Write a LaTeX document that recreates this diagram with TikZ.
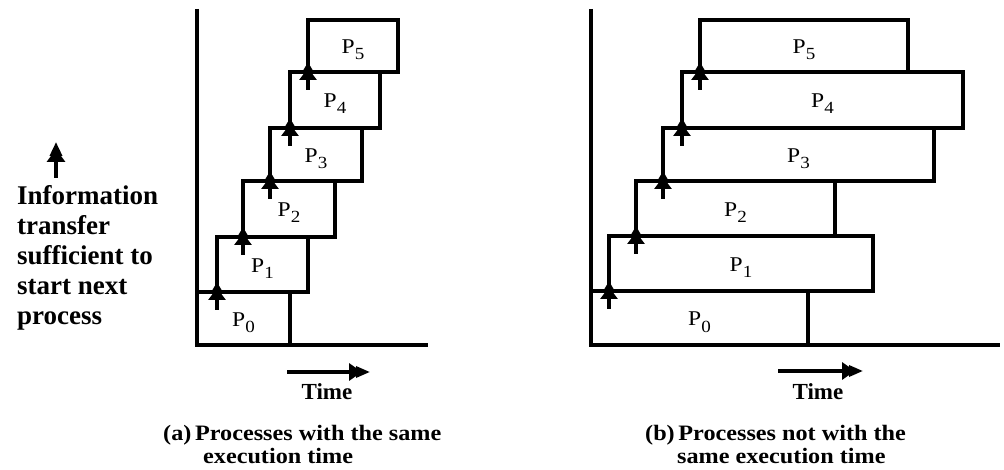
\documentclass[tikz,border=0pt]{standalone}
\usepackage{fontspec}
\setmainfont{Liberation Serif}
\newfontfamily\pfont[FakeStretch=1.12]{Liberation Serif}
\newfontfamily\capfont[FakeStretch=1.1]{Liberation Serif}
\usetikzlibrary{arrows.meta,fit,calc}
\newcommand{\Pn}[1]{P\raisebox{-6pt}{\fontsize{17}{17}\selectfont #1}}
\begin{document}
\begin{tikzpicture}[x=1pt,y=-1pt,
  pbox/.style={draw, line width=3.2pt, rectangle, inner sep=0pt, outer sep=0pt},
  plabel/.style={font=\pfont\fontsize{21}{21}\selectfont, inner sep=0pt, anchor=base},
  axisline/.style={line width=3.8pt},
  treetip/.style={-{Triangle[length=12pt,width=17pt,sep=-6pt] Triangle[length=12pt,width=13pt]}},
  upflow/.style={line width=3.2pt, treetip},
  legarrow/.style={line width=3.4pt, -{Triangle[length=13pt,width=18pt,sep=-7pt] Triangle[length=14pt,width=12pt]}},
  timearrow/.style={line width=3.2pt, -{Triangle[length=13pt,width=17pt,sep=-6pt] Triangle[length=14pt,width=11pt]}},
  legtext/.style={font=\bfseries\fontsize{27}{27}\selectfont, inner sep=0pt, anchor=base west},
  captext/.style={font=\capfont\bfseries\fontsize{22}{22}\selectfont, inner sep=0pt, anchor=base west},
  timetext/.style={font=\bfseries\fontsize{23}{23}\selectfont, inner sep=0pt, anchor=base}
]
\useasboundingbox (0,0) rectangle (1004,470);

% ---------- panel (a) ----------
\coordinate (aTop) at (197,9);
\coordinate (aOrig) at (197,345);
\coordinate (aEnd) at (428,345);
\draw[axisline] (aTop) -- (aOrig) -- (aEnd);

\node[pbox, fit={(197,292) (290,345)}] (a0) {};
\node[pbox, fit={(217,237) (308,292)}] (a1) {};
\node[pbox, fit={(243,181) (335,237)}] (a2) {};
\node[pbox, fit={(270,128) (362,181)}] (a3) {};
\node[pbox, fit={(290,72) (380,128)}] (a4) {};
\node[pbox, fit={(308,20) (398,72)}] (a5) {};
\foreach \i in {0,...,5}{
  \node[plabel] (a\i l) at ($(a\i.center)+(0,8)$) {\Pn{\i}};
}
\foreach \i/\j in {0/1,1/2,2/3,3/4,4/5}{
  \draw[upflow] ($(a\j.west |- a\i.north)+(0,18)$) -- ($(a\j.west |- a\i.north)+(0,-10)$);
}

\coordinate (taS) at (287,372);
\coordinate (taE) at (370,372);
\draw[timearrow] (taS) -- (taE);
\node[timetext] (timeA) at (327,399) {Time};
\node[captext] (capA1) at (163,440) {(a)\,Processes with the same};
\node[captext] (capA2) at (203,463) {execution time};

% ---------- panel (b) ----------
\coordinate (bTop) at (591,9);
\coordinate (bOrig) at (591,345);
\coordinate (bEnd) at (1000,345);
\draw[axisline] (bTop) -- (bOrig) -- (bEnd);

\node[pbox, fit={(591,291) (808,345)}] (b0) {};
\node[pbox, fit={(609,236) (873,291)}] (b1) {};
\node[pbox, fit={(636,181) (835,236)}] (b2) {};
\node[pbox, fit={(663,128) (934,181)}] (b3) {};
\node[pbox, fit={(682,72) (963,128)}] (b4) {};
\node[pbox, fit={(700,20) (908,72)}] (b5) {};
\foreach \i in {0,...,5}{
  \node[plabel] (b\i l) at ($(b\i.center)+(0,8)$) {\Pn{\i}};
}
\foreach \i/\j in {0/1,1/2,2/3,3/4,4/5}{
  \draw[upflow] ($(b\j.west |- b\i.north)+(0,18)$) -- ($(b\j.west |- b\i.north)+(0,-10)$);
}

\coordinate (tbS) at (778,371);
\coordinate (tbE) at (863,371);
\draw[timearrow] (tbS) -- (tbE);
\node[timetext] (timeB) at (818,399) {Time};
\node[captext] (capB1) at (645,440) {(b)\,Processes not with the};
\node[captext] (capB2) at (677,463) {same execution time};

% ---------- legend ----------
\coordinate (legTail) at (56,178);
\coordinate (legTip) at (56,142);
\draw[legarrow] (legTail) -- (legTip);
\node[legtext] (leg1) at (17,205) {Information};
\node[legtext] (leg2) at (17,235) {transfer};
\node[legtext] (leg3) at (17,265) {sufficient to};
\node[legtext] (leg4) at (17,295) {start next};
\node[legtext] (leg5) at (17,325) {process};
\end{tikzpicture}
\end{document}
